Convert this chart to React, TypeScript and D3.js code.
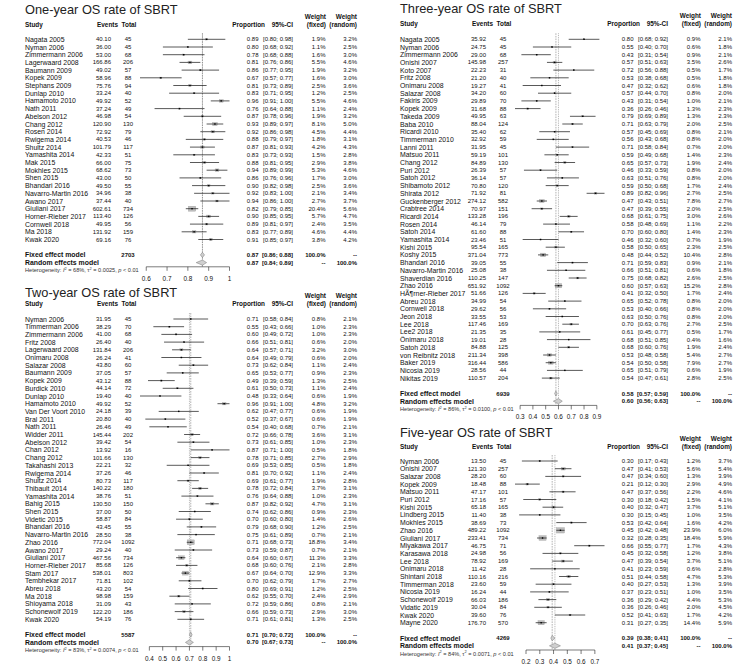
import React from "react";
import * as d3 from "d3";

// ---------- One-year OS ----------
const oneStudies = ["Nagata 2005", "Nyman 2006", "Zimmermann 2006", "Lagerwaard 2008", "Baumann 2009", "Kopek 2009", "Stephans 2009", "Dunlap 2010", "Hamamoto 2010", "Nath 2011", "Abelson 2012", "Chang 2012", "Rosen 2014", "Rwigema 2014", "Shultz 2014", "Yamashita 2014", "Mak 2015", "Mokhles 2015", "Shen 2015", "Bhandari 2016", "Navarro-Martin 2016", "Awano 2017", "Giuliani 2017", "Horner-Rieber 2017", "Cornwell 2018", "Ma 2018", "Kwak 2020"];
const oneEvents = [40.10, 36.00, 53.00, 166.86, 49.02, 58.96, 75.76, 33.24, 49.92, 37.24, 46.98, 120.90, 72.92, 40.53, 101.79, 42.33, 66.00, 68.62, 43.00, 49.50, 34.96, 37.44, 602.61, 113.40, 49.95, 131.92, 69.16];
const oneTotals = [45, 45, 68, 206, 57, 88, 94, 40, 52, 49, 54, 130, 79, 46, 117, 51, 75, 73, 50, 55, 38, 40, 734, 126, 56, 159, 76];
const oneProp = [0.89, 0.80, 0.78, 0.81, 0.86, 0.67, 0.81, 0.83, 0.96, 0.76, 0.87, 0.93, 0.92, 0.88, 0.87, 0.83, 0.88, 0.94, 0.86, 0.90, 0.92, 0.94, 0.82, 0.90, 0.89, 0.83, 0.91];
const oneLower = [0.80, 0.68, 0.68, 0.76, 0.77, 0.57, 0.73, 0.71, 0.91, 0.64, 0.78, 0.89, 0.86, 0.79, 0.81, 0.73, 0.81, 0.89, 0.76, 0.82, 0.83, 0.86, 0.79, 0.85, 0.81, 0.77, 0.85];
const oneUpper = [0.98, 0.92, 0.88, 0.86, 0.95, 0.77, 0.89, 0.95, 1.00, 0.88, 0.96, 0.97, 0.98, 0.97, 0.93, 0.93, 0.95, 0.99, 0.96, 0.98, 1.00, 1.00, 0.85, 0.95, 0.97, 0.89, 0.97];
const oneWFixed = [1.9, 1.1, 1.6, 5.5, 1.9, 1.6, 2.5, 1.2, 5.5, 1.1, 1.9, 8.1, 4.5, 1.8, 4.2, 1.5, 2.9, 5.3, 1.7, 2.5, 2.1, 2.7, 20.4, 5.7, 2.4, 4.6, 3.8];
const oneWRandom = [3.2, 2.5, 3.0, 4.6, 3.2, 3.0, 3.6, 2.5, 4.6, 2.4, 3.2, 5.0, 4.4, 3.1, 4.3, 2.8, 3.8, 4.6, 3.0, 3.6, 3.4, 3.7, 5.6, 4.7, 3.5, 4.4, 4.2];
const oneFixed = [0.87, 0.86, 0.88];
const oneRandom = [0.87, 0.84, 0.89];
const oneN = 2703;
const oneHet = ["68%", "0.0025", "0.01"];
const oneTicks = [0.6, 0.7, 0.8, 0.9, 1];

// ---------- Two-year OS ----------
const twoStudies = ["Nyman 2006", "Timmerman 2006", "Zimmermann 2006", "Fritz 2008", "Lagerwaard 2008", "Onimaru 2008", "Salazar 2008", "Baumann 2009", "Kopek 2009", "Burdick 2010", "Dunlap 2010", "Hamamoto 2010", "Van Der Voort 2010", "Bral 2011", "Nath 2011", "Widder 2011", "Abelson 2012", "Chan 2012", "Chang 2012", "Takahashi 2013", "Rwigema 2014", "Shultz 2014", "Thibault 2014", "Yamashita 2014", "Bahig 2015", "Shen 2015", "Videtic 2015", "Bhandari 2016", "Navarro-Martin 2016", "Zhao 2016", "Awano 2017", "Giuliani 2017", "Horner-Rieber 2017", "Stam 2017", "Tembhekar 2017", "Abreu 2018", "Ma 2018", "Shioyama 2018", "Schonewolf 2019", "Kwak 2020"];
const twoEvents = [31.95, 38.29, 41.00, 26.40, 131.84, 26.24, 43.80, 37.05, 43.12, 44.14, 19.40, 49.92, 24.18, 20.80, 26.46, 145.44, 39.42, 13.92, 101.66, 22.21, 37.26, 80.73, 140.22, 38.76, 130.50, 37.00, 58.87, 43.45, 28.50, 772.04, 29.24, 467.56, 85.68, 538.01, 71.81, 43.20, 98.98, 31.09, 122.20, 54.19];
const twoTotals = [45, 70, 68, 40, 206, 41, 60, 57, 88, 72, 40, 52, 39, 40, 49, 202, 54, 16, 130, 32, 46, 117, 180, 51, 150, 50, 84, 55, 38, 1092, 40, 734, 126, 803, 102, 54, 159, 43, 186, 76];
const twoProp = [0.71, 0.55, 0.60, 0.66, 0.64, 0.64, 0.73, 0.65, 0.49, 0.61, 0.48, 0.96, 0.62, 0.52, 0.54, 0.72, 0.73, 0.87, 0.78, 0.69, 0.81, 0.69, 0.78, 0.76, 0.87, 0.74, 0.70, 0.79, 0.75, 0.71, 0.73, 0.64, 0.68, 0.67, 0.70, 0.80, 0.62, 0.72, 0.66, 0.71];
const twoLower = [0.58, 0.43, 0.49, 0.51, 0.57, 0.49, 0.62, 0.53, 0.39, 0.50, 0.33, 0.91, 0.47, 0.37, 0.40, 0.66, 0.61, 0.71, 0.71, 0.53, 0.70, 0.61, 0.72, 0.64, 0.82, 0.62, 0.60, 0.68, 0.61, 0.68, 0.59, 0.60, 0.60, 0.64, 0.62, 0.69, 0.55, 0.59, 0.59, 0.61];
const twoUpper = [0.84, 0.66, 0.72, 0.81, 0.71, 0.79, 0.84, 0.77, 0.59, 0.73, 0.64, 1.00, 0.77, 0.67, 0.68, 0.78, 0.85, 1.00, 0.85, 0.85, 0.92, 0.77, 0.84, 0.88, 0.92, 0.86, 0.80, 0.90, 0.89, 0.73, 0.87, 0.67, 0.76, 0.70, 0.79, 0.91, 0.70, 0.86, 0.73, 0.81];
const twoWFixed = [0.8, 1.0, 1.0, 0.6, 3.2, 0.6, 1.1, 0.9, 1.3, 1.1, 0.6, 4.8, 0.6, 0.6, 0.7, 3.6, 1.0, 0.5, 2.7, 0.5, 1.1, 1.9, 3.7, 1.0, 4.7, 0.9, 1.4, 1.2, 0.7, 18.8, 0.7, 11.3, 2.1, 12.9, 1.7, 1.2, 2.4, 0.8, 2.9, 1.3];
const twoWRandom = [2.1, 2.3, 2.3, 2.0, 3.0, 2.0, 2.4, 2.3, 2.5, 2.4, 1.9, 3.2, 1.9, 1.9, 2.1, 3.1, 2.3, 1.8, 2.9, 1.8, 2.4, 2.8, 3.1, 2.3, 3.1, 2.3, 2.6, 2.5, 2.1, 3.4, 2.1, 3.3, 2.8, 3.3, 2.7, 2.5, 2.9, 2.1, 3.0, 2.5];
const twoFixed = [0.71, 0.70, 0.72];
const twoRandom = [0.70, 0.67, 0.73];
const twoN = 5587;
const twoHet = ["83%", "0.0074", "0.01"];
const twoTicks = [0.4, 0.5, 0.6, 0.7, 0.8, 0.9, 1];

// ---------- Three-year OS ----------
const threeStudies = ["Nagata 2005", "Nyman 2006", "Zimmermann 2006", "Onishi 2007", "Koto 2007", "Fritz 2008", "Onimaru 2008", "Salazar 2008", "Fakiris 2009", "Kopek 2009", "Takeda 2009", "Baba 2010", "Ricardi 2010", "Timmerman 2010", "Lanni 2011", "Matsuo 2011", "Chang 2012", "Puri 2012", "Satoh 2012", "Shibamoto 2012", "Shirata 2012", "Guckenberger 2012", "Crabtree 2014", "Ricardi 2014", "Rosen 2014", "Satoh 2014", "Yamashita 2014", "Kishi 2015", "Koshy 2015", "Bhandari 2016", "Navarro-Martin 2016", "Shaverdian 2016", "Zhao 2016", "HÃ¶rner-Rieber 2017", "Abreu 2018", "Cornwell 2018", "Jeon 2018", "Lee 2018", "Lee2 2018", "Önimaru 2018", "Satoh 2018", "von Reibnitz 2018", "Baker 2019", "Nicosia 2019", "Nikitas 2019"];
const threeEvents = [35.92, 24.75, 29.00, 145.98, 22.23, 21.20, 19.27, 34.20, 29.89, 31.68, 49.95, 88.04, 35.40, 32.92, 31.95, 59.19, 84.89, 26.39, 36.14, 70.80, 71.92, 274.12, 70.97, 133.28, 46.14, 61.60, 23.46, 95.54, 371.04, 39.05, 25.08, 110.25, 651.92, 51.66, 34.99, 29.62, 33.55, 117.46, 21.35, 19.01, 84.88, 211.34, 316.44, 28.56, 110.57];
const threeTotals = [45, 45, 68, 257, 31, 40, 41, 60, 70, 88, 63, 124, 62, 59, 45, 101, 130, 57, 57, 120, 81, 582, 151, 196, 79, 88, 51, 165, 773, 55, 38, 147, 1092, 126, 54, 56, 53, 169, 35, 28, 125, 398, 586, 44, 204];
const threeProp = [0.80, 0.55, 0.43, 0.57, 0.72, 0.53, 0.47, 0.57, 0.43, 0.36, 0.79, 0.71, 0.57, 0.56, 0.71, 0.59, 0.65, 0.46, 0.63, 0.59, 0.89, 0.47, 0.47, 0.68, 0.58, 0.70, 0.46, 0.58, 0.48, 0.71, 0.66, 0.75, 0.60, 0.41, 0.65, 0.53, 0.63, 0.70, 0.61, 0.68, 0.68, 0.53, 0.54, 0.65, 0.54];
const threeLower = [0.68, 0.40, 0.31, 0.51, 0.56, 0.38, 0.32, 0.44, 0.31, 0.26, 0.69, 0.63, 0.45, 0.43, 0.58, 0.49, 0.57, 0.33, 0.51, 0.50, 0.82, 0.43, 0.39, 0.61, 0.48, 0.60, 0.32, 0.50, 0.44, 0.59, 0.51, 0.68, 0.57, 0.32, 0.52, 0.40, 0.50, 0.63, 0.45, 0.51, 0.60, 0.48, 0.50, 0.51, 0.47];
const threeUpper = [0.92, 0.70, 0.54, 0.63, 0.88, 0.68, 0.62, 0.70, 0.54, 0.46, 0.89, 0.79, 0.69, 0.68, 0.84, 0.68, 0.73, 0.59, 0.76, 0.68, 0.96, 0.51, 0.55, 0.75, 0.69, 0.80, 0.60, 0.65, 0.52, 0.83, 0.81, 0.82, 0.63, 0.50, 0.78, 0.66, 0.76, 0.76, 0.77, 0.85, 0.76, 0.58, 0.58, 0.79, 0.61];
const threeWFixed = [0.9, 0.6, 0.9, 3.5, 0.5, 0.5, 0.6, 0.8, 1.0, 1.3, 1.3, 2.0, 0.8, 0.8, 0.7, 1.4, 1.9, 0.8, 0.8, 1.7, 2.7, 7.8, 2.0, 3.0, 1.1, 1.4, 0.7, 2.3, 10.4, 0.9, 0.6, 2.6, 15.2, 1.7, 0.8, 0.8, 0.8, 2.7, 0.5, 0.4, 1.9, 5.4, 7.9, 0.6, 2.8];
const threeWRandom = [2.1, 1.8, 2.1, 2.6, 1.7, 1.8, 1.8, 2.0, 2.1, 2.3, 2.3, 2.5, 2.1, 2.0, 2.0, 2.3, 2.4, 2.0, 2.0, 2.4, 2.5, 2.7, 2.5, 2.6, 2.2, 2.3, 1.9, 2.5, 2.8, 2.1, 1.8, 2.5, 2.8, 2.4, 2.0, 2.0, 2.0, 2.5, 1.7, 1.6, 2.4, 2.7, 2.7, 1.9, 2.5];
const threeFixed = [0.58, 0.57, 0.59];
const threeRandom = [0.60, 0.56, 0.63];
const threeN = 6939;
const threeHet = ["86%", "0.0100", "0.01"];
const threeTicks = [0.3, 0.4, 0.5, 0.6, 0.7, 0.8, 0.9];

// ---------- Five-year OS ----------
const fiveStudies = ["Nyman 2006", "Onishi 2007", "Salazar 2008", "Kopek 2009", "Matsuo 2011", "Puri 2012", "Kishi 2015", "Lindberg 2015", "Mokhles 2015", "Zhao 2016", "Giuliani 2017", "Miyakawa 2017", "Karasawa 2018", "Lee 2018", "Onimaru 2018", "Shintani 2018", "Timmerman 2018", "Nicosia 2019", "Schonewolf 2019", "Vidatic 2019", "Kwak 2020", "Mayne 2020"];
const fiveEvents = [13.50, 121.30, 28.20, 18.48, 47.17, 17.16, 65.18, 11.40, 38.69, 489.22, 233.41, 46.75, 24.98, 78.92, 11.42, 110.16, 23.60, 16.24, 66.03, 30.04, 39.60, 176.70];
const fiveTotals = [45, 257, 60, 88, 101, 57, 165, 38, 73, 1092, 734, 71, 56, 169, 28, 216, 59, 44, 186, 84, 76, 570];
const fiveProp = [0.30, 0.47, 0.47, 0.21, 0.47, 0.30, 0.40, 0.30, 0.53, 0.45, 0.32, 0.66, 0.45, 0.47, 0.41, 0.51, 0.40, 0.37, 0.36, 0.36, 0.52, 0.31];
const fiveLower = [0.17, 0.41, 0.34, 0.12, 0.37, 0.18, 0.32, 0.15, 0.42, 0.42, 0.28, 0.55, 0.32, 0.39, 0.23, 0.44, 0.27, 0.23, 0.29, 0.26, 0.41, 0.27];
const fiveUpper = [0.43, 0.53, 0.60, 0.30, 0.56, 0.42, 0.47, 0.45, 0.64, 0.48, 0.35, 0.77, 0.58, 0.54, 0.59, 0.58, 0.53, 0.51, 0.42, 0.46, 0.63, 0.35];
const fiveWFixed = [1.2, 5.6, 1.3, 2.9, 2.2, 1.5, 3.7, 1.0, 1.6, 23.9, 18.4, 1.7, 1.2, 3.7, 0.6, 4.7, 1.3, 1.0, 4.4, 2.0, 1.7, 14.4];
const fiveWRandom = [3.7, 5.4, 3.9, 4.9, 4.6, 4.1, 5.1, 3.5, 4.2, 6.0, 5.9, 4.3, 3.8, 5.1, 2.8, 5.3, 3.9, 3.5, 5.3, 4.5, 4.2, 5.9];
const fiveFixed = [0.39, 0.38, 0.41];
const fiveRandom = [0.41, 0.37, 0.45];
const fiveN = 4269;
const fiveHet = ["84%", "0.0071", "0.01"];
const fiveTicks = [0.2, 0.3, 0.4, 0.5, 0.6, 0.7];

const FONT = "'Liberation Sans', Arial, Helvetica, sans-serif";
const FS_NAME = 6.9;   // study labels
const FS_NUM = 6;      // numeric columns
const FS_HEAD = 6.4;   // bold column headers
const STEP = 7.7;

interface PanelData {
  title: string;
  studies: string[];
  events: number[];
  totals: number[];
  prop: number[];
  lower: number[];
  upper: number[];
  wFixed: number[];
  wRandom: number[];
  fixed: number[];
  random: number[];
  n: number;
  het: string[];
  ticks: number[];
}

interface PanelLayout {
  x0: number;
  titleY: number;
  studyY: number;
  firstY: number;
}

const ci = (lo: number, hi: number) => `[${lo.toFixed(2)}; ${hi.toFixed(2)}]`;
const pct = (w: number) => `${w.toFixed(1)}%`;

function Panel({ d, lay }: { d: PanelData; lay: PanelLayout }) {
  const n = d.studies.length;
  const y = (i: number) => lay.firstY + i * STEP;
  const x = d3.scaleLinear()
    .domain([d3.min(d.lower) as number, d3.max(d.upper) as number])
    .range([140, 229.5]);
  const h = d3.scaleSqrt().domain([0, 25]).range([0, 5.6]);
  const fixedY = y(n + 1);
  const randomY = y(n + 2);
  const hetY = y(n + 3);
  const axisY = hetY - 3.5;
  const topY = lay.firstY - 6;

  const col = { study: 25, events: 111, total: 128, prop: 258.5, ci: 293, wf: 325.5, wr: 357 };
  const diamond = (v: number[], yy: number) =>
    `${x(v[1])},${yy} ${x(v[0])},${yy - 2.6} ${x(v[2])},${yy} ${x(v[0])},${yy + 2.6}`;

  return (
    <g transform={`translate(${lay.x0},0)`} fontFamily={FONT} fontSize={FS_NUM} fill="#111">
      <text x={25} y={lay.titleY} fontSize={12.8} fill="#222">{d.title}</text>

      {/* header */}
      <g fontWeight="bold" fontSize={FS_HEAD} dominantBaseline="central">
        <text x={col.study} y={lay.studyY}>Study</text>
        <text x={118} y={lay.studyY} textAnchor="end">Events</text>
        <text x={col.total + 1} y={lay.studyY} textAnchor="middle">Total</text>
        <text x={265} y={lay.studyY} textAnchor="end">Proportion</text>
        <text x={col.ci} y={lay.studyY} textAnchor="end">95%-CI</text>
        <text x={326} y={lay.studyY - 8} textAnchor="end">Weight</text>
        <text x={326} y={lay.studyY} textAnchor="end">(fixed)</text>
        <text x={col.wr} y={lay.studyY - 8} textAnchor="end">Weight</text>
        <text x={col.wr} y={lay.studyY} textAnchor="end">(random)</text>
      </g>

      {/* reference lines */}
      <line x1={x(d.fixed[0])} x2={x(d.fixed[0])} y1={topY} y2={axisY}
        stroke="#666" strokeWidth={0.5} strokeDasharray="1.6 1" />
      <line x1={x(d.random[0])} x2={x(d.random[0])} y1={topY} y2={axisY}
        stroke="#666" strokeWidth={0.5} strokeDasharray="0.9 0.9" />

      {/* studies */}
      {d.studies.map((s, i) => {
        const yy = y(i);
        const hh = h(d.wFixed[i]);
        const ww = hh * 1.5;
        return (
          <g key={s + i}>
            <text x={col.study} y={yy} dominantBaseline="central" fontSize={FS_NAME}>{s}</text>
            <text x={col.events} y={yy} dominantBaseline="central" textAnchor="end">{d.events[i].toFixed(2)}</text>
            <text x={col.total} y={yy} dominantBaseline="central" textAnchor="middle">{d.totals[i]}</text>
            <text x={col.prop} y={yy} dominantBaseline="central" textAnchor="end">{d.prop[i].toFixed(2)}</text>
            <text x={col.ci} y={yy} dominantBaseline="central" textAnchor="end">{ci(d.lower[i], d.upper[i])}</text>
            <text x={col.wf} y={yy} dominantBaseline="central" textAnchor="end">{pct(d.wFixed[i])}</text>
            <text x={col.wr} y={yy} dominantBaseline="central" textAnchor="end">{pct(d.wRandom[i])}</text>
            <rect x={x(d.prop[i]) - ww / 2} y={yy - hh / 2} width={ww} height={hh}
              fill="#bdbdbd" stroke="#9a9a9a" strokeWidth={0.3} />
            <line x1={x(d.lower[i])} x2={x(d.upper[i])} y1={yy} y2={yy} stroke="#222" strokeWidth={0.75} />
            <rect x={x(d.prop[i]) - 0.7} y={yy - 0.7} width={1.4} height={1.4} fill="#000" />
          </g>
        );
      })}

      {/* pooled */}
      <g fontWeight="bold" dominantBaseline="central">
        <text x={col.study} y={fixedY} fontSize={FS_NAME}>Fixed effect model</text>
        <text x={col.total} y={fixedY} textAnchor="middle">{d.n}</text>
        <text x={col.prop} y={fixedY} textAnchor="end">{d.fixed[0].toFixed(2)}</text>
        <text x={col.ci} y={fixedY} textAnchor="end">{ci(d.fixed[1], d.fixed[2])}</text>
        <text x={col.wf} y={fixedY} textAnchor="end">100.0%</text>
        <text x={col.wr} y={fixedY} textAnchor="end">--</text>
        <text x={col.study} y={randomY} fontSize={FS_NAME}>Random effects model</text>
        <text x={col.prop} y={randomY} textAnchor="end">{d.random[0].toFixed(2)}</text>
        <text x={col.ci} y={randomY} textAnchor="end">{ci(d.random[1], d.random[2])}</text>
        <text x={col.wf} y={randomY} textAnchor="end">--</text>
        <text x={col.wr} y={randomY} textAnchor="end">100.0%</text>
      </g>
      <polygon points={diamond(d.fixed, fixedY)} fill="#cfcfcf" stroke="#777" strokeWidth={0.5} />
      <polygon points={diamond(d.random, randomY)} fill="#cfcfcf" stroke="#777" strokeWidth={0.5} />

      <text x={col.study} y={hetY} dominantBaseline="central" fontSize={5.6} fill="#333">
        Heterogeneity: <tspan fontStyle="italic">I</tspan>
        <tspan dy={-2.1} fontSize={3.9}>2</tspan>
        <tspan dy={2.1}>{` = ${d.het[0]}, \u03c4`}</tspan>
        <tspan dy={-2.1} fontSize={3.9}>2</tspan>
        <tspan dy={2.1}>{` = ${d.het[1]}, `}</tspan>
        <tspan fontStyle="italic">p</tspan>
        {` < ${d.het[2]}`}
      </text>

      {/* axis */}
      <line x1={x(d.ticks[0])} x2={x(d.ticks[d.ticks.length - 1])} y1={axisY} y2={axisY}
        stroke="#222" strokeWidth={0.6} />
      {d.ticks.map((t) => (
        <g key={t}>
          <line x1={x(t)} x2={x(t)} y1={axisY} y2={axisY + 4} stroke="#222" strokeWidth={0.6} />
          <text x={x(t)} y={axisY + 11.5} textAnchor="middle" dominantBaseline="central" fontSize={6.4}>{String(t)}</text>
        </g>
      ))}
    </g>
  );
}

const panels: { d: PanelData; lay: PanelLayout }[] = [
  {
    d: { title: "One-year OS rate of SBRT", studies: oneStudies, events: oneEvents, totals: oneTotals, prop: oneProp, lower: oneLower, upper: oneUpper, wFixed: oneWFixed, wRandom: oneWRandom, fixed: oneFixed, random: oneRandom, n: oneN, het: oneHet, ticks: oneTicks },
    lay: { x0: 0, titleY: 13.5, studyY: 24, firstY: 39.3 },
  },
  {
    d: { title: "Two-year OS rate of SBRT", studies: twoStudies, events: twoEvents, totals: twoTotals, prop: twoProp, lower: twoLower, upper: twoUpper, wFixed: twoWFixed, wRandom: twoWRandom, fixed: twoFixed, random: twoRandom, n: twoN, het: twoHet, ticks: twoTicks },
    lay: { x0: 0, titleY: 297, studyY: 303, firstY: 319 },
  },
  {
    d: { title: "Three-year OS rate of SBRT", studies: threeStudies, events: threeEvents, totals: threeTotals, prop: threeProp, lower: threeLower, upper: threeUpper, wFixed: threeWFixed, wRandom: threeWRandom, fixed: threeFixed, random: threeRandom, n: threeN, het: threeHet, ticks: threeTicks },
    lay: { x0: 375, titleY: 13, studyY: 23.5, firstY: 39.3 },
  },
  {
    d: { title: "Five-year OS rate of SBRT", studies: fiveStudies, events: fiveEvents, totals: fiveTotals, prop: fiveProp, lower: fiveLower, upper: fiveUpper, wFixed: fiveWFixed, wRandom: fiveWRandom, fixed: fiveFixed, random: fiveRandom, n: fiveN, het: fiveHet, ticks: fiveTicks },
    lay: { x0: 375, titleY: 437, studyY: 446, firstY: 461 },
  },
];

export default function App() {
  return (
    <div style={{ position: "absolute", left: 0, top: 0 }}>
      <svg width={749} height={666} style={{ display: "block", background: "#fff" }}>
        {panels.map((p) => <Panel key={p.d.title} d={p.d} lay={p.lay} />)}
      </svg>
    </div>
  );
}
